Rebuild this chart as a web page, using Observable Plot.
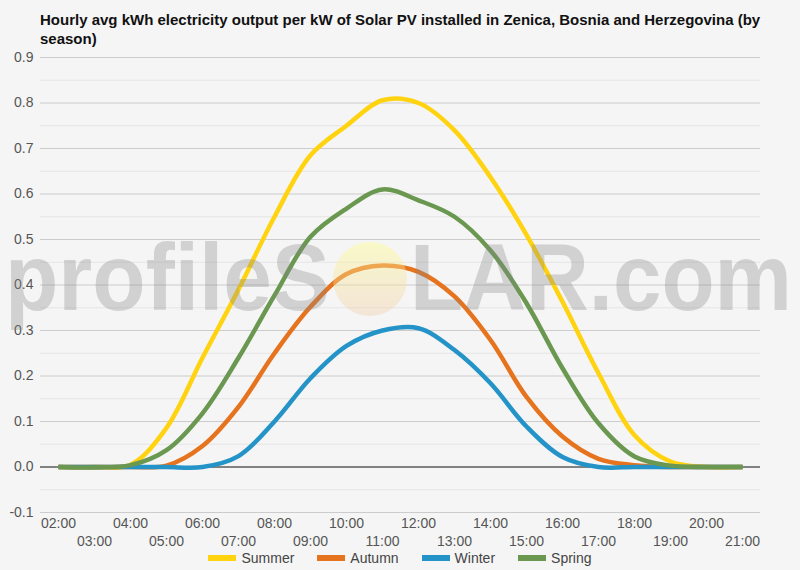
<!DOCTYPE html>
<html><head><meta charset="utf-8">
<script src="https://cdn.jsdelivr.net/npm/d3@7"></script>
<script src="https://cdn.jsdelivr.net/npm/@observablehq/plot@0.6"></script>
<style>
body{margin:0;background:#f5f5f5;font-family:"Liberation Sans",Arial,sans-serif;width:800px;height:570px;overflow:hidden;position:relative}
#title{position:absolute;left:40px;top:10px;width:730px;font-size:15px;font-weight:bold;line-height:19px;color:#111}
#chart{position:absolute;left:0;top:48px}
#legend{position:absolute;top:551px;left:0;width:800px;display:flex;justify-content:center;gap:23px;font-size:14px;line-height:14px;color:#444}
#legend .item{display:flex;align-items:center}
#legend .sw{width:28px;height:6px;margin-right:5px}
#wm{position:absolute;left:0;top:0;pointer-events:none}
#wm text{font-family:"Liberation Sans",Arial,sans-serif;font-weight:700;font-size:94px}
</style></head>
<body>
<div id="title">Hourly avg kWh electricity output per kW of Solar PV installed in Zenica, Bosnia and Herzegovina (by season)</div>
<div id="chart"></div>
<div id="legend"></div>
<svg id="wm" width="800" height="570">
  <defs>
    <linearGradient id="sun" x1="0" y1="0" x2="0" y2="1">
      <stop offset="0" stop-color="#ffff90" stop-opacity="0.45"/>
      <stop offset="1" stop-color="#f0c8a0" stop-opacity="0.35"/>
    </linearGradient>
  </defs>
  <circle cx="370" cy="279" r="37" fill="url(#sun)"/>
  <g fill="rgb(135,135,135)" fill-opacity="0.32">
    <text x="5" y="310" textLength="325" lengthAdjust="spacingAndGlyphs">profileS</text>
    <text x="410" y="310" textLength="382" lengthAdjust="spacingAndGlyphs">LAR.com</text>
  </g>
</svg>
<script>
const hours = ["02:00","03:00","04:00","05:00","06:00","07:00","08:00","09:00","10:00","11:00","12:00","13:00","14:00","15:00","16:00","17:00","18:00","19:00","20:00","21:00"];
const seasons = ["Summer","Autumn","Winter","Spring"];
const colors = ["#ffd30f","#e6731e","#2494c8","#6a9850"];
const summer = [0,0,0.005,0.086,0.24,0.39,0.55,0.685,0.75,0.806,0.80,0.74,0.637,0.51,0.363,0.206,0.07,0.012,0,0];
const autumn = [0,0,0,0.003,0.046,0.132,0.25,0.352,0.424,0.443,0.429,0.375,0.279,0.154,0.067,0.018,0.004,0,0,0];
const winter = [0,0,0,0,0,0.024,0.10,0.195,0.266,0.30,0.305,0.257,0.184,0.089,0.022,0,0,0,0,0];
const spring = [0,-0.001,0.004,0.037,0.118,0.24,0.377,0.506,0.568,0.61,0.586,0.55,0.476,0.36,0.217,0.096,0.023,0.003,0,0];
const majorTicks = [-0.1,0,0.1,0.2,0.3,0.4,0.5,0.6,0.7,0.8,0.9];
const minorTicks = [-0.05,0.05,0.15,0.25,0.35,0.45,0.55,0.65,0.75,0.85];
const evenHours = hours.filter((h,i)=>i%2===0);
const oddHours = hours.filter((h,i)=>i%2===1);

const series = [summer, autumn, winter, spring];
const data = seasons.flatMap((s,i)=>hours.map((h,j)=>({hour:h, value:series[i][j], season:s})));

const chart = Plot.plot({
  width:800, height:504, marginTop:9, marginBottom:40, marginLeft:40, marginRight:40,
  style:{background:"transparent", fontFamily:"Liberation Sans, Arial, sans-serif", fontSize:"14px", color:"#555", overflow:"visible"},
  x:{type:"point", domain:hours, padding:0.5, axis:null, label:null},
  y:{domain:[-0.1,0.9], axis:null, label:null},
  color:{domain:seasons, range:colors},
  marks:[
    Plot.ruleY(minorTicks,{stroke:"#e5e5e5", strokeWidth:1}),
    Plot.ruleY(majorTicks,{stroke:"#cccccc", strokeWidth:1}),
    Plot.ruleY([0],{stroke:"#222", strokeWidth:1}),
    Plot.axisY(majorTicks,{tickSize:0, tickPadding:7, tickFormat:d=>d.toFixed(1), fill:"#555", fontSize:14, label:null}),
    Plot.axisX(evenHours,{tickSize:0, tickPadding:6, fill:"#555", fontSize:14, label:null}),
    Plot.axisX(oddHours,{tickSize:0, tickPadding:24, fill:"#555", fontSize:14, label:null}),
    Plot.line(data,{x:"hour", y:"value", stroke:"season", strokeWidth:4.5, curve:"catmull-rom", strokeLinecap:"butt"})
  ]
});
document.getElementById("chart").appendChild(chart);

const legend = document.getElementById("legend");
seasons.forEach((s,i)=>{
  const it = document.createElement("div"); it.className="item";
  const sw = document.createElement("div"); sw.className="sw"; sw.style.background=colors[i];
  const t = document.createElement("span"); t.textContent=s;
  it.appendChild(sw); it.appendChild(t); legend.appendChild(it);
});
</script>
</body></html>
